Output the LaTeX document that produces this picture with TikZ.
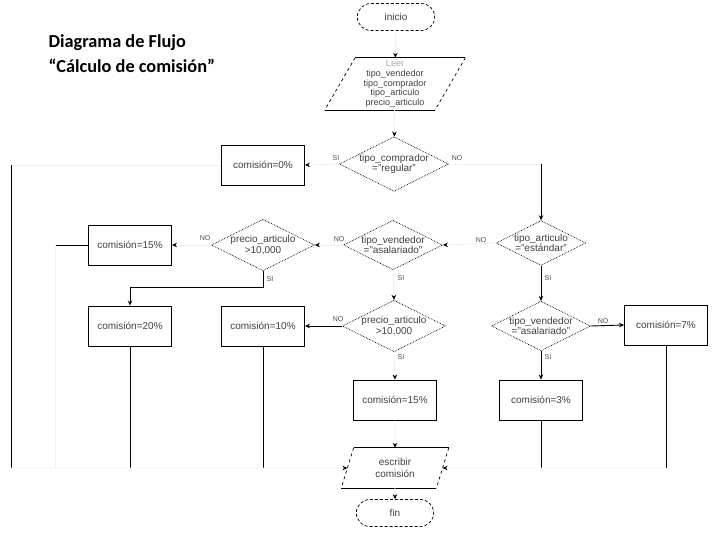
\documentclass[tikz,border=0pt]{standalone}
\usepackage{fontspec}
\setmainfont{Liberation Sans}
\newfontfamily\titlefont{Carlito}
\usetikzlibrary{shapes,arrows.meta,positioning}

\begin{document}
\begin{tikzpicture}[
    x=1pt, y=-1pt,
    >={Stealth[length=5pt,width=4.5pt,color=black]},
    terminal/.style={rounded rectangle, draw, line width=0.7pt, dash pattern=on 3pt off 2pt, minimum width=84pt, minimum height=27pt, font=\fontsize{10}{12}\selectfont, text=black!75},
    decision/.style={diamond, draw, line width=0.7pt, densely dotted, aspect=2, inner sep=0pt, align=center, font=\fontsize{10}{10.5}\selectfont, text=black!75},
    result/.style={rectangle, draw, line width=0.9pt, minimum width=83pt, minimum height=40pt, font=\fontsize{10}{12}\selectfont, text=black!75},
    datain/.style={trapezium, trapezium left angle=57, trapezium right angle=123, trapezium stretches body, inner sep=0pt, align=center, text=black!75},
    answer/.style={font=\fontsize{7}{8}\selectfont, text=black!70, inner sep=0pt},
    wire/.style={line width=0.9pt},
    faded/.style={line width=0.9pt, draw=black!6},
]
\useasboundingbox (0,0) rectangle (720,540);

% Title
\node[anchor=north west, align=left, font=\titlefont\bfseries\fontsize{18.3}{25}\selectfont] (title) at (45,31) {Diagrama de Flujo\\“Cálculo de comisión”};

% Start and input
\node[terminal] (inicio) at (396,17) {inicio};
\node[datain, minimum width=140pt, minimum height=52pt, font=\fontsize{9}{9.6}\selectfont] (leer) at (395,84) {{\color{black!35}Leer}\\tipo\_vendedor\\tipo\_comprador\\tipo\_articulo\\precio\_articulo};
\draw[line width=0.8pt] (leer.top left corner) -- (leer.top right corner);
\draw[line width=0.8pt] (leer.bottom left corner) -- (leer.bottom right corner);
\draw[line width=0.7pt, dashed] (leer.top left corner) -- (leer.bottom left corner);
\draw[line width=0.7pt, dashed] (leer.top right corner) -- (leer.bottom right corner);

% Decisions
\node[decision] (comprador) at (394,164) {tipo\_comprador\\="regular"};
\node[decision] (vendedor) at (393,245) {tipo\_vendedor\\="asalariado"};
\node[decision] (precio) at (263,245) {precio\_articulo\\>10,000};
\node[decision] (articulo) at (541,243) {tipo\_articulo\\="estándar"};
\node[decision] (preciob) at (394,326) {precio\_articulo\\>10,000};
\node[decision] (vendedorb) at (541,326) {tipo\_vendedor\\="asalariado"};

% Results
\node[result] (cero) at (263,165) {comisión=0\%};
\node[result] (quince) at (130,245) {comisión=15\%};
\node[result] (veinte) at (130,326) {comisión=20\%};
\node[result] (diez) at (263,326) {comisión=10\%};
\node[result] (quinceb) at (395,400) {comisión=15\%};
\node[result] (tres) at (541,400) {comisión=3\%};
\node[result] (siete) at (666,325) {comisión=7\%};

% Output and end
\node[datain, minimum width=107pt, minimum height=40pt, font=\fontsize{10}{11.5}\selectfont] (escribir) at (395,468) {escribir\\comisión};
\draw[line width=0.8pt] (escribir.top left corner) -- (escribir.top right corner);
\draw[line width=0.8pt] (escribir.bottom left corner) -- (escribir.bottom right corner);
\draw[line width=0.7pt, dashed] (escribir.top left corner) -- (escribir.bottom left corner);
\draw[line width=0.7pt, dashed] (escribir.top right corner) -- (escribir.bottom right corner);
\node[terminal] (fin) at (395,513) {fin};

% Branch labels
\node[answer] (si1) at (336,158) {SI};
\node[answer] (no1) at (457,158) {NO};
\node[answer] (no2) at (481,240) {NO};
\node[answer] (si2) at (548,278) {SI};
\node[answer] (no3) at (339,239) {NO};
\node[answer] (si3) at (401,278) {SI};
\node[answer] (no4) at (205,238) {NO};
\node[answer] (si4) at (270,279) {SI};
\node[answer] (no5) at (338,319) {NO};
\node[answer] (si5) at (401,357) {SI};
\node[answer] (no6) at (603,321) {NO};
\node[answer] (si6) at (548,357) {SI};

% Bus corners
\coordinate (leftbus) at (11,468);
\coordinate (midbus) at (55,468);
\coordinate (rightbus) at (666,468);

% Main flow
\draw[faded, ->] (inicio) -- (leer);
\draw[faded, ->] (leer) -- (comprador);
\draw[faded, ->] (comprador.west) -- (cero.east);
\draw[faded] (comprador.east) -- (comprador.east -| articulo.north);
\draw[wire, ->] (comprador.east -| articulo.north) -- (articulo.north);
\draw[faded, ->] (articulo.west) -- (vendedor.east);
\draw[wire, ->] (articulo.south) -- (vendedorb.north);
\draw[faded, ->] (vendedor.west) -- (precio.east);
\draw[faded, ->] (vendedor.south) -- (preciob.north);
\draw[faded, ->] (precio.west) -- (quince.east);
\draw[wire, ->] (precio.south) -- ++(0,16) -| (veinte.north);
\draw[wire, ->] (preciob.west) -- (diez.east);
\draw[faded, ->] (preciob.south) -- (quinceb.north);
\draw[wire, ->] (vendedorb.east) -- (siete.west);
\draw[wire, ->] (vendedorb.south) -- (tres.north);

% Results to output
\draw[faded] (cero.west) -- (cero.west -| leftbus);
\draw[wire] (cero.west -| leftbus) -- (leftbus);
\draw[wire] (quince.west) -- (quince.west -| midbus);
\draw[faded] (quince.west -| midbus) -- (midbus);
\draw[wire] (veinte.south) -- (veinte.south |- leftbus);
\draw[wire] (diez.south) -- (diez.south |- leftbus);
\draw[faded, ->] (leftbus) -- (escribir.west);
\draw[wire] (tres.south) -- (tres.south |- rightbus);
\draw[wire] (siete.south) -- (rightbus);
\draw[faded, ->] (rightbus) -- (escribir.east);
\draw[faded, ->] (quinceb.south) -- (escribir.north);
\draw[faded, ->] (escribir.south) -- (fin.north);

\end{tikzpicture}
\end{document}
